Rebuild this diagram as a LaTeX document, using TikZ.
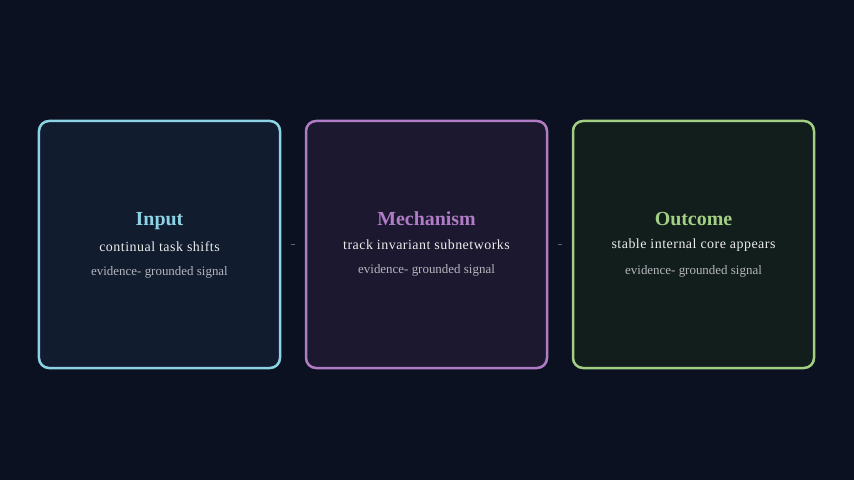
\documentclass[tikz,border=0pt]{standalone}
\usepackage{fontspec}
\setmainfont{Liberation Serif}
\newfontfamily\subfont[LetterSpace=3.5]{Liberation Serif}
\definecolor{bg}{HTML}{0B1120}
\definecolor{fillA}{HTML}{111C2E}
\definecolor{lineA}{HTML}{8DD3E6}
\definecolor{fillB}{HTML}{1B1830}
\definecolor{lineB}{HTML}{B07CC6}
\definecolor{fillC}{HTML}{121E1B}
\definecolor{lineC}{HTML}{A3CF85}
\definecolor{subtxt}{HTML}{EDEDED}
\definecolor{dimtxt}{HTML}{B4B6BC}
\definecolor{connc}{HTML}{5C6272}
\tikzset{
  card/.style={draw, rounded corners=10bp, line width=2.5bp, minimum width=241bp, minimum height=247bp, inner sep=0pt},
  ttl/.style={anchor=base, font=\fontsize{20}{24}\selectfont\bfseries, inner sep=0pt},
  sub/.style={anchor=base, font=\subfont\fontsize{14}{17}\selectfont, text=subtxt, inner sep=0pt},
  dim/.style={anchor=base, font=\fontsize{13}{16}\selectfont, text=dimtxt, inner sep=0pt},
  conn/.style={draw=connc, line width=0.8bp, shorten >=10bp, shorten <=10bp}
}
\begin{document}
\begin{tikzpicture}[x=1bp,y=-1bp]
\fill[bg] (0,0) rectangle (854,480);
\useasboundingbox (0,0) rectangle (854,480);
\node[card, fill=fillA, draw=lineA] (in) at (159.5,244.5) {};
\node[card, fill=fillB, draw=lineB] (mech) at (426.5,244.5) {};
\node[card, fill=fillC, draw=lineC] (out) at (693.5,244.5) {};
\node[ttl, text=lineA] (inT) at (159.5,225.5) {Input};
\node[sub] (inS) at (159.5,251.5) {continual task shifts};
\node[dim] (inD) at (159.5,275.5) {evidence- grounded signal};
\node[ttl, text=lineB] (mechT) at (426.5,226) {Mechanism};
\node[sub] (mechS) at (426.5,250) {track invariant subnetworks};
\node[dim] (mechD) at (426.5,273.5) {evidence- grounded signal};
\node[ttl, text=lineC] (outT) at (693.5,225.5) {Outcome};
\node[sub] (outS) at (693.5,249) {stable internal core appears};
\node[dim] (outD) at (693.5,275) {evidence- grounded signal};
\draw[conn] (in.east) -- (mech.west);
\draw[conn] (mech.east) -- (out.west);
\end{tikzpicture}
\end{document}
